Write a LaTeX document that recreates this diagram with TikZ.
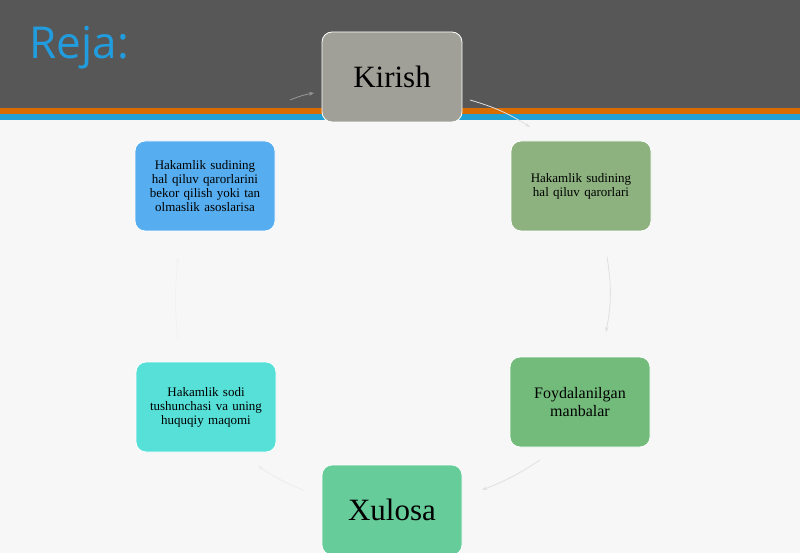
\documentclass[tikz,border=0pt]{standalone}
\usepackage{fontspec}
\setmainfont{Liberation Serif}
\newfontfamily\hdr{Open Sans}
\usetikzlibrary{arrows.meta,calc}
\begin{document}
\begin{tikzpicture}[x=1pt,y=-1pt,
  box/.style={rounded corners=10pt,minimum width=140pt,minimum height=90pt,align=center,draw=white,line width=0.8pt,inner sep=3pt,text width=128pt},
  small/.style={font=\fontsize{13}{14}\selectfont},
  big/.style={font=\fontsize{31}{34}\selectfont},
  link/.style={draw=black!12,line width=0.8pt,-{Stealth[length=5pt]}}]
\useasboundingbox (0,0) rectangle (800,553);
\fill[black!3] (0,0) rectangle (800,553);
\fill[black!66] (0,0) rectangle (800,108);
\fill[orange!85!black] (0,108) rectangle (800,114);
\fill[cyan!70!teal] (0,114) rectangle (800,120);
\node[anchor=west,text=cyan!80!blue!90,font=\hdr\fontsize{44}{48}\selectfont] (title) at (26,48) {Reja:};
\node[box,big,fill={rgb,255:red,160;green,160;blue,152}] (k) at (392,77) {Kirish};
\node[box,small,fill={rgb,255:red,141;green,178;blue,128},text width=110pt] (r1) at (581,186) {Hakamlik sudining hal qiluv qarorlari};
\node[box,font=\fontsize{16}{18}\selectfont,fill={rgb,255:red,114;green,187;blue,122},text width=120pt] (r2) at (580,402) {Foydalanilgan manbalar};
\node[box,big,fill={rgb,255:red,102;green,204;blue,154}] (x) at (392,510) {Xulosa};
\node[box,small,fill={rgb,255:red,86;green,224;blue,216}] (l2) at (206,407) {Hakamlik sodi tushunchasi va uning huquqiy maqomi};
\node[box,small,fill={rgb,255:red,86;green,174;blue,240}] (l1) at (205,186) {Hakamlik sudining hal qiluv qarorlarini bekor qilish yoki tan olmaslik asoslarisa};
\coordinate (a1) at (470,100); \coordinate (a2) at (530,127);
\coordinate (b1) at (607,257); \coordinate (b2) at (606,332);
\coordinate (c1) at (540,460); \coordinate (c2) at (482,490);
\coordinate (d1) at (303,490); \coordinate (d2) at (258,466);
\coordinate (e1) at (178,340); \coordinate (e2) at (178,258);
\coordinate (f1) at (290,100); \coordinate (f2) at (314,93);
\draw[link] (a1) to[bend left=8] (a2);
\draw[link] (b1) to[bend left=10] (b2);
\draw[link] (c1) to[bend left=6] (c2);
\draw[link,draw=black!7] (d1) to[bend left=6] (d2);
\draw[link,draw=black!5] (e1) to[bend left=6] (e2);
\draw[link,draw=black!40] (f1) to[bend left=6] (f2);
\end{tikzpicture}
\end{document}
